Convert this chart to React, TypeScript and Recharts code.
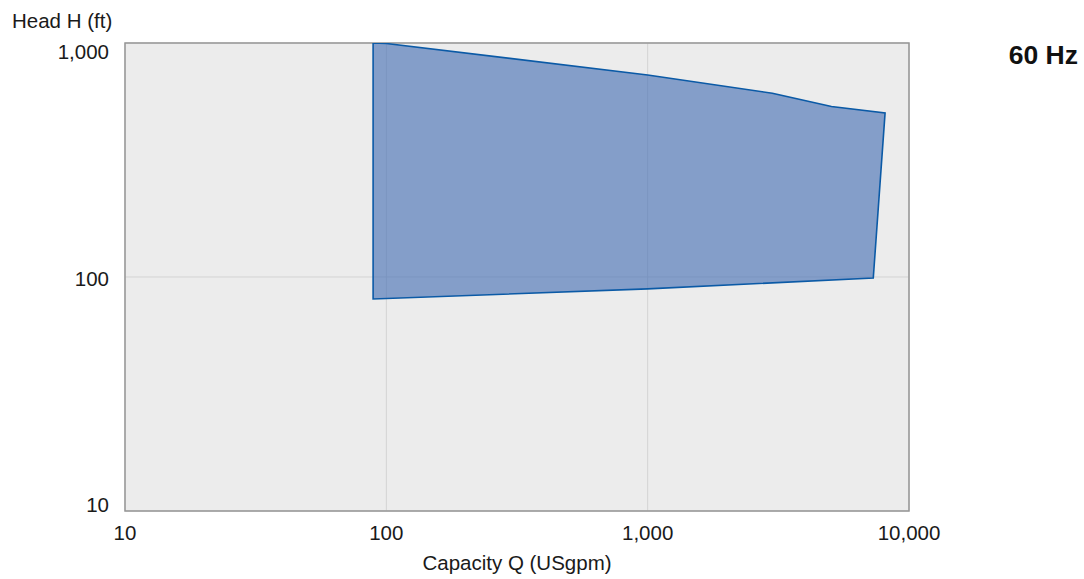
import React from 'react';
import {
  ComposedChart,
  Scatter,
  XAxis,
  YAxis,
  CartesianGrid,
  ReferenceArea,
} from 'recharts';

// Capacity Q (USgpm) and Head H (ft) outlining the operating range polygon (in order, closed)
const capacityQ = [89, 100, 1000, 3000, 5050, 8100, 7300, 1000, 89, 89];
const headH = [1000, 995, 730, 610, 535, 503, 99, 89, 80.5, 1000];

const xTicks = [10, 100, 1000, 10000];
const yTicks = [10, 100, 1000];

const xLabel = 'Capacity Q (USgpm)';
const yLabel = 'Head H (ft)';
const freqLabel = '60 Hz';

const data = capacityQ.map((q, i) => ({ q, h: headH[i] }));

const FONT = '"Liberation Sans", Arial, Helvetica, sans-serif';
const FS = 20.5;
const fmt = (v: number) => v.toLocaleString('en-US');

const XTick = (props: any) => {
  const { x, y, payload } = props;
  return (
    <text x={x} y={y} textAnchor="middle" dominantBaseline="central" fill="#1a1a1a" fontSize={FS} fontFamily={FONT}>
      {fmt(payload.value)}
    </text>
  );
};

const YTick = (props: any) => {
  const { x, y, payload } = props;
  const v = payload.value;
  const dy = v === 1000 ? 8 : v === 10 ? -7 : 1;
  return (
    <text x={x} y={y + dy} textAnchor="end" dominantBaseline="central" fill="#1a1a1a" fontSize={FS} fontFamily={FONT}>
      {fmt(v)}
    </text>
  );
};

const noShape = () => <g />;

export default function App() {
  return (
    <div style={{ position: 'absolute', left: 0, top: 0, width: 1084, height: 579, background: '#fff' }}>
      <ComposedChart
        width={1084}
        height={579}
        data={data}
        margin={{ top: 43, right: 175, left: 0, bottom: 0 }}
      >
        <CartesianGrid fill="#ececec" stroke="#d3d3d3" strokeWidth={1} />
        <XAxis
          dataKey="q"
          type="number"
          scale="log"
          domain={[10, 10000]}
          ticks={xTicks}
          allowDataOverflow
          axisLine={false}
          tickLine={false}
          tickSize={0}
          tickMargin={21}
          height={68}
          tick={<XTick />}
          label={(p: any) => {
            const vb = p.viewBox || {};
            return (
              <text x={vb.x + vb.width / 2} y={562} textAnchor="middle" dominantBaseline="central" fill="#1a1a1a" fontSize={FS} fontFamily={FONT}>
                {xLabel}
              </text>
            );
          }}
        />
        <YAxis
          dataKey="h"
          type="number"
          scale="log"
          domain={[10, 1000]}
          ticks={yTicks}
          allowDataOverflow
          axisLine={false}
          tickLine={false}
          tickSize={0}
          tickMargin={16}
          width={125}
          tick={<YTick />}
          label={() => (
            <text x={12} y={20} textAnchor="start" dominantBaseline="central" fill="#1a1a1a" fontSize={FS} fontFamily={FONT}>
              {yLabel}
            </text>
          )}
        />
        <Scatter
          data={data}
          dataKey="h"
          isAnimationActive={false}
          fill="#3f6bb2"
          shape={noShape}
          line={{ fill: 'rgba(63,107,178,0.6)', stroke: '#0b5aa6', strokeWidth: 1.6 }}
          lineType="joint"
          lineJointType="linear"
        />
        <ReferenceArea
          x1={10}
          x2={10000}
          y1={10}
          y2={1000}
          fill="none"
          stroke="#969696"
          strokeWidth={1.5}
          ifOverflow="visible"
        />
      </ComposedChart>
      <div
        style={{
          position: 'absolute',
          right: 6,
          top: 55,
          transform: 'translateY(-50%)',
          fontFamily: FONT,
          fontWeight: 'bold',
          fontSize: 26.5,
          color: '#111',
          lineHeight: 1,
        }}
      >
        {freqLabel}
      </div>
    </div>
  );
}
